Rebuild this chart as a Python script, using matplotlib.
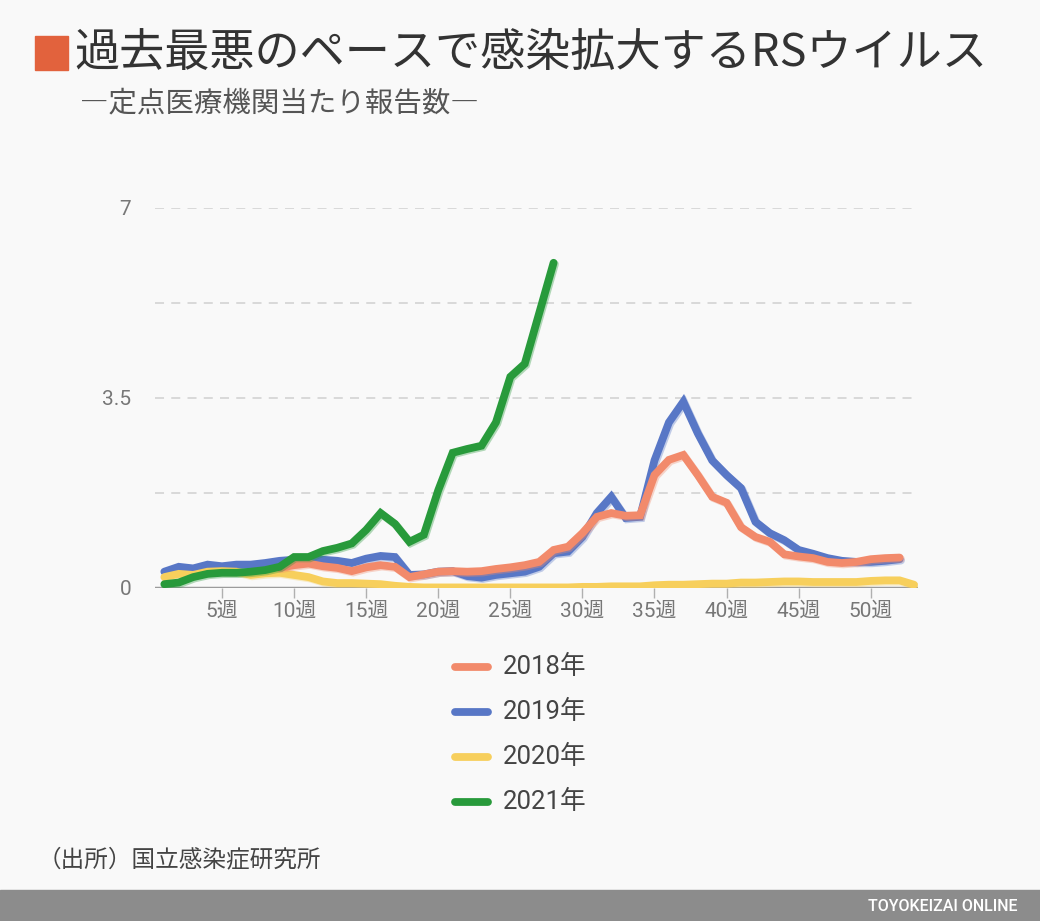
import matplotlib
matplotlib.use("Agg")
import matplotlib.pyplot as plt
import matplotlib.patheffects as pe
from matplotlib.lines import Line2D
from matplotlib.patches import Rectangle

plt.rcParams['font.family'] = ['Roboto', 'Noto Sans CJK JP', 'DejaVu Sans']

# 定点医療機関当たり報告数（週別）
weeks_2018 = list(range(9, 53))
rs_2018 = [0.37, 0.42, 0.45, 0.40, 0.37, 0.31, 0.38, 0.42, 0.39, 0.20,
           0.25, 0.30, 0.31, 0.30, 0.31, 0.35, 0.38, 0.42, 0.48, 0.70,
           0.76, 1.01, 1.31, 1.38, 1.33, 1.34, 2.08, 2.36, 2.45, 2.08,
           1.68, 1.57, 1.12, 0.94, 0.85, 0.62, 0.58, 0.55, 0.48, 0.46,
           0.48, 0.53, 0.55, 0.56]

weeks_2019 = list(range(1, 53))
rs_2019 = [0.30, 0.39, 0.36, 0.43, 0.40, 0.43, 0.43, 0.46, 0.50, 0.52,
           0.53, 0.52, 0.50, 0.46, 0.54, 0.59, 0.57, 0.24, 0.25, 0.30,
           0.31, 0.22, 0.19, 0.24, 0.27, 0.30, 0.39, 0.64, 0.67, 0.94,
           1.38, 1.68, 1.29, 1.31, 2.35, 3.05, 3.43, 2.85, 2.35, 2.08,
           1.84, 1.22, 1.01, 0.88, 0.70, 0.63, 0.55, 0.50, 0.48, 0.48,
           0.50, 0.53]

weeks_2020 = list(range(1, 54))
rs_2020 = [0.20, 0.26, 0.24, 0.30, 0.31, 0.30, 0.24, 0.27, 0.28, 0.24,
           0.20, 0.12, 0.09, 0.09, 0.08, 0.07, 0.04, 0.02, 0.01, 0.01,
           0.01, 0.01, 0.01, 0.01, 0.01, 0.01, 0.01, 0.01, 0.01, 0.02,
           0.02, 0.03, 0.03, 0.03, 0.05, 0.06, 0.06, 0.07, 0.08, 0.08,
           0.10, 0.10, 0.11, 0.12, 0.12, 0.11, 0.11, 0.11, 0.11, 0.13,
           0.14, 0.14, 0.06]

weeks_2021 = list(range(1, 29))
rs_2021 = [0.07, 0.10, 0.20, 0.26, 0.28, 0.28, 0.30, 0.33, 0.39, 0.57,
           0.57, 0.68, 0.74, 0.82, 1.07, 1.38, 1.18, 0.85, 0.98, 1.80,
           2.49, 2.56, 2.62, 3.05, 3.89, 4.13, 5.06, 5.99]

series = [
    ("2018年", weeks_2018, rs_2018, "#f28a6b", 4),
    ("2019年", weeks_2019, rs_2019, "#5877c6", 2),
    ("2020年", weeks_2020, rs_2020, "#f7cf5c", 3),
    ("2021年", weeks_2021, rs_2021, "#289a3b", 5),
]

x_ticks = [5, 10, 15, 20, 25, 30, 35, 40, 45, 50]
y_ticks = [0, 3.5, 7]
y_tick_labels = ["0", "3.5", "7"]
grid_levels = [1.75, 3.5, 5.25, 7]

bg = "#f9f9f9"
fig = plt.figure(figsize=(10.4, 9.21), dpi=100, facecolor=bg)
ax = fig.add_axes([0.149, 0.3616, 0.734, 0.4126], facecolor=bg)

for g in grid_levels:
    ax.axhline(g, color="#d6d6d6", lw=1.3, ls=(0, (5, 4)), zorder=1)
ax.axhline(0, color="#9b9b9b", lw=2.5, zorder=1.5)

for label, w, v, c, z in series:
    ax.plot(w, v, color=c, lw=5.6, solid_capstyle="round", solid_joinstyle="miter",
            zorder=z, path_effects=[pe.SimpleLineShadow(offset=(1, -1), shadow_color=c, alpha=0.35),
                                    pe.Normal()])

ax.set_xlim(0.35, 53.3)
ax.set_ylim(0, 7)
ax.set_xticks(x_ticks)
ax.set_xticklabels([f"{t}週" for t in x_ticks])
ax.set_yticks(y_ticks)
ax.set_yticklabels(y_tick_labels)
ax.tick_params(axis="x", length=7, width=1, color="#b0b0b0", labelsize=15,
               labelcolor="#777777", pad=3)
ax.tick_params(axis="y", length=0, labelsize=15, labelcolor="#777777", pad=17)
for s in ax.spines.values():
    s.set_visible(False)

# タイトル
fig.add_artist(Rectangle((35 / 1040, 1 - 70 / 921), 33 / 1040, 34 / 921,
                         transform=fig.transFigure, color="#e2623d"))
fig.text(74 / 1040, 1 - 53 / 921, "過去最悪のペースで感染拡大するRSウイルス",
         fontsize=32.5, color="#333333", va="center", ha="left",
         family=['Noto Sans CJK JP', 'DejaVu Sans'])
fig.text(80 / 1040, 1 - 103 / 921, "―定点医療機関当たり報告数―",
         fontsize=20.5, color="#555555", va="center", ha="left",
         family=['Noto Sans CJK JP', 'DejaVu Sans'])

# 凡例
for i, (label, w, v, c, z) in enumerate(series):
    yy = 1 - (667 + 45 * i) / 921
    fig.add_artist(Line2D([455 / 1040, 488 / 1040], [yy, yy], transform=fig.transFigure,
                          color=c, lw=5.6, solid_capstyle="round"))
    fig.text(503 / 1040, yy, label, fontsize=18.5, color="#444444", va="center", ha="left")

# 出所
fig.text(38 / 1040, 1 - 860 / 921, "（出所）国立感染症研究所", fontsize=17,
         color="#444444", va="center", ha="left",
         family=['Noto Sans CJK JP', 'DejaVu Sans'])

# フッター
fig.add_artist(Rectangle((0, 0), 1, 31 / 921, transform=fig.transFigure, color="#8c8c8c"))
fig.text(1018 / 1040, 15 / 921, "TOYOKEIZAI ONLINE", fontsize=11.5, color="white",
         va="center", ha="right", fontweight="medium")

fig.savefig("out.png", dpi=100, facecolor=bg)
